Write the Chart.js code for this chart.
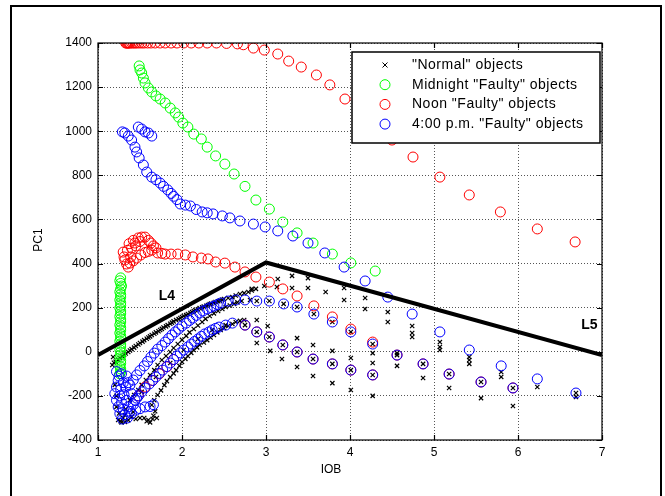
<!DOCTYPE html>
<html>
<head>
<meta charset="utf-8">
<script src="https://cdn.jsdelivr.net/npm/chart.js@4.4.1/dist/chart.umd.min.js"></script>
<style>
  html, body { margin: 0; padding: 0; background: #fff; }
</style>
</head>
<body>
<canvas id="pcChart" width="665" height="496"></canvas>
<script>
/* ------------------------------------------------------------
   Données (IOB, PC1)
------------------------------------------------------------ */
const xTicks = [1, 2, 3, 4, 5, 6, 7];
const yTicks = [-400, -200, 0, 200, 400, 600, 800, 1000, 1200, 1400];

const normalPts = [
  // bande dense supérieure
  [1.17,-60],[1.21,-45],[1.26,-28],[1.31,-14],[1.36,-1],[1.40,12],[1.45,26],[1.50,40],[1.55,53],[1.60,65],
  [1.64,76],[1.69,88],[1.74,99],[1.78,110],[1.83,121],[1.88,132],[1.93,144],[1.98,153],[2.02,162],[2.07,171],
  [2.12,180],[2.16,189],[2.21,198],[2.26,205],[2.31,212],[2.35,219],[2.40,226],[2.45,232],[2.50,239],[2.55,244],
  [2.60,248],[2.64,255],[2.69,262],[2.74,266],[2.79,271],[2.83,278],[2.88,285],[2.98,298],
  [1.19,-50],[1.24,-36],[1.29,-20],[1.33,-8],[1.38,6],[1.43,19],[1.48,33],[1.53,46],[1.58,59],[1.62,70],
  [1.67,82],[1.72,93],[1.76,104],[1.81,115],[1.86,127],[1.90,138],[1.96,148],[2.00,158],[2.05,166],[2.10,176],
  [2.14,185],[2.19,193],[2.24,202],[2.29,209],[2.33,216],[2.38,222],[2.43,229],[2.48,236],
  // bande inférieure
  [1.24,-309],[1.32,-287],[1.42,-273],[1.50,-300],[1.60,-309],[1.64,-241],[1.71,-196],[1.79,-151],[1.86,-115],
  [1.93,-83],[2.00,-46],[2.07,-19],[2.14,8],[2.21,31],[2.30,53],[2.38,76],[2.46,99],[2.55,117],[2.64,135],[2.74,144],
  [1.67,-220],[1.75,-175],[1.82,-133],[1.90,-98],[1.97,-64],[2.04,-32],[2.11,-5],[2.18,20],[2.26,42],[2.34,65],
  [2.42,88],[2.50,108],[2.60,126],[2.69,140],
  // bande du milieu
  [1.38,-219],[1.48,-173],[1.57,-128],[1.67,-83],[1.76,-37],[1.86,-1],[1.95,35],[2.05,72],[2.14,103],[2.24,135],
  [2.33,162],[2.43,185],[2.52,203],[2.62,217],[2.71,230],[2.81,235],
  [1.43,-196],[1.52,-150],[1.62,-105],[1.71,-60],[1.81,-19],[1.90,17],[2.00,54],[2.09,88],[2.19,119],[2.28,149],
  [2.38,174],[2.48,194],[2.57,210],[2.66,224],
  [1.52,-182],[1.69,-114],[1.86,-51],[2.02,8],[2.19,58],[2.36,99],[2.52,121],
  // amas en bas à gauche
  [1.22,-250],[1.25,-280],[1.28,-320],[1.30,-300],[1.33,-260],[1.36,-310],[1.40,-295],[1.55,-300],[1.62,-320],
  [1.66,-290],[1.18,-24],[1.20,-150],[1.22,-200],[1.27,-315],[1.32,-318],[1.45,-305],[1.58,-315],[1.65,-305],
  [1.70,-300],[1.68,-270],
  // nuage à droite
  [2.83,285],[3.14,330],[3.13,294],[3.31,344],[3.31,289],[3.50,334],[3.50,289],[3.71,271],[3.93,289],[3.93,235],
  [4.18,244],[4.18,194],[4.45,180],[4.45,135],[4.74,117],[4.74,85],[4.74,67],[5.07,44],[5.07,22],[5.07,8],
  [5.42,-24],[5.42,-37],[5.42,-55],[5.80,-92],[5.80,-114],[6.23,-160],[6.69,-205],
  [2.89,144],[3.02,117],[2.89,40],[3.05,4],[3.19,-33],[3.37,62],[3.37,-69],[3.56,31],[3.56,-110],[3.79,4],
  [3.79,-142],[4.01,-28],[4.01,-173],[4.27,-6],[4.27,-51],[4.27,-200],[4.56,-6],[4.56,-64],[4.87,-55],[4.87,-119],
  [5.18,-101],[5.18,-164],[5.56,-137],[5.56,-210],[5.94,-164],[5.94,-246],[6.69,-187],
  [2.89,230],[3.04,230],[3.21,217],[3.37,203],[3.57,171],[3.79,135],[4.01,90],[4.27,35],[4.56,-15],
  [2.75,121],[2.89,90],[3.04,67],[3.20,31],[3.37,-1],[3.56,-33],[3.79,-55],[4.01,-83],[4.27,-105]
];

const midnightPts = [
  // colonne verticale
  [1.27,335],[1.26,322],[1.27,310],[1.28,298],[1.27,285],[1.26,272],[1.27,260],[1.27,248],[1.26,235],[1.27,222],
  [1.27,210],[1.26,198],[1.27,185],[1.27,172],[1.26,160],[1.27,148],[1.27,135],[1.26,122],[1.27,110],[1.27,98],
  [1.26,85],[1.27,72],[1.27,60],[1.26,48],[1.27,35],[1.27,22],[1.26,10],[1.27,-2],[1.27,-15],[1.26,-28],
  [1.27,-40],[1.27,-52],[1.26,-65],[1.27,-78],[1.27,-90],[1.26,-100],
  // diagonale
  [1.49,1296],[1.50,1278],[1.52,1264],[1.54,1241],[1.56,1219],[1.60,1196],[1.64,1178],[1.69,1160],[1.74,1146],
  [1.80,1128],[1.86,1105],[1.92,1083],[1.96,1064],[2.01,1037],[2.07,1019],[2.14,987],[2.23,965],[2.30,928],
  [2.40,888],[2.51,851],[2.62,806],[2.75,750],[2.88,688],[3.04,647],[3.20,588],[3.37,539],[3.56,493],[3.79,443],
  [4.01,403],[4.30,366]
];

const noonPts = [
  // plateau à 1400
  [1.33,1400],[1.34,1400],[1.35,1400],[1.36,1400],[1.37,1400],[1.38,1400],[1.40,1400],[1.42,1400],[1.44,1400],
  [1.46,1400],[1.49,1400],[1.52,1400],[1.55,1400],[1.59,1400],[1.63,1400],[1.68,1400],[1.74,1400],[1.80,1400],
  [1.87,1400],[1.94,1400],[2.02,1400],[2.11,1400],[2.20,1400],[2.30,1400],[2.41,1400],[2.53,1398],[2.66,1396],
  [2.73,1392],[2.85,1377],[2.98,1368],[3.14,1350],[3.27,1318],[3.42,1291],[3.60,1255],[3.76,1210],[3.94,1146],
  [4.25,1051],[4.50,960],[4.75,883],[5.07,792],[5.42,711],[5.79,634],[6.23,557],[6.68,498],
  // boucle
  [1.30,452],[1.32,416],[1.36,384],[1.39,430],[1.44,493],[1.48,516],[1.52,520],[1.56,520],[1.60,505],[1.63,493],
  [1.66,480],[1.69,471],[1.64,461],[1.60,455],[1.56,450],[1.51,439],[1.46,425],[1.42,412],[1.38,402],[1.34,398],
  [1.31,430],[1.35,460],[1.40,470],[1.45,480],[1.50,500],[1.42,505],[1.37,490],
  // traîne
  [1.71,448],[1.76,446],[1.80,443],[1.87,443],[1.95,443],[2.04,439],[2.13,430],[2.23,425],[2.31,421],[2.40,407],
  [2.51,402],[2.63,384],[2.75,362],
  // descente basse
  [2.88,339],[3.04,316],[3.20,285],[3.37,253],[3.57,208],[3.79,158],[4.01,103],[4.27,44],[4.56,-15],[4.87,-55],
  [5.18,-101],[5.56,-137],[5.94,-164],
  [1.48,-200],[1.56,-160],[1.65,-130],[1.73,-100],[1.82,-68],[1.90,-35],
  [2.75,121],[2.89,90],[3.04,67],[3.20,31],[3.37,-1],[3.56,-33],[3.79,-55],[4.01,-83],[4.27,-105]
];

const afternoonPts = [
  // branche haute
  [1.48,1019],[1.52,1010],[1.56,997],[1.60,992],[1.64,978],
  [1.29,997],[1.32,992],[1.36,978],[1.40,960],[1.44,928],[1.46,906],[1.49,879],[1.54,847],[1.58,815],[1.64,792],
  [1.69,780],[1.74,765],[1.78,750],[1.83,734],[1.87,718],[1.90,705],[1.94,690],[1.98,670],[2.04,665],[2.10,661],
  [2.17,645],[2.24,634],[2.30,630],[2.37,625],[2.48,616],[2.57,607],[2.69,593],[2.85,579],[2.99,566],[3.14,548],
  [3.32,525],[3.50,493],[3.70,448],[3.93,384],[4.18,321],[4.45,248],[4.74,171],[5.07,90],[5.42,8],[5.80,-64],
  [6.23,-123],[6.69,-187],
  // amas et crochet
  [1.22,-90],[1.25,-110],[1.28,-100],[1.24,-130],[1.30,-140],[1.22,-160],[1.27,-170],[1.33,-160],[1.20,-190],
  [1.26,-200],[1.31,-195],[1.22,-220],[1.28,-230],[1.34,-220],[1.24,-250],[1.30,-260],[1.36,-250],[1.26,-280],
  [1.32,-285],[1.38,-270],[1.29,-305],[1.35,-300],[1.40,-280],[1.45,-265],[1.50,-258],[1.56,-250],[1.62,-248],
  [1.66,-240],[1.42,-240],[1.46,-210],[1.40,-190],[1.36,-140],[1.34,-110],
  // branche basse 1
  [1.38,-151],[1.42,-128],[1.46,-105],[1.50,-85],[1.55,-64],[1.59,-44],[1.63,-24],[1.67,-6],[1.71,12],[1.76,28],
  [1.80,44],[1.84,60],[1.88,76],[1.92,90],[1.96,103],[2.00,117],[2.05,130],[2.09,142],[2.13,153],[2.17,165],
  [2.21,176],[2.25,185],[2.30,194],[2.34,201],[2.38,207],[2.42,214],[2.46,221],[2.55,230],[2.64,235],[2.75,235],
  [2.89,230],[3.04,230],[3.21,217],[3.37,203],[3.57,171],[3.79,135],[4.01,90],[4.27,35],[4.56,-15],[4.87,-55],
  [5.18,-101],[5.56,-137],[5.94,-164],
  // branche basse 2
  [1.44,-219],[1.48,-200],[1.52,-182],[1.56,-164],[1.61,-146],[1.65,-130],[1.69,-114],[1.73,-98],[1.77,-83],
  [1.82,-67],[1.86,-51],[1.90,-35],[1.94,-19],[1.98,-5],[2.02,8],[2.07,22],[2.11,35],[2.15,47],[2.19,58],
  [2.23,70],[2.27,81],[2.32,90],[2.36,99],[2.40,106],[2.44,112],[2.52,121],[2.60,130],[2.75,121],[2.89,90],
  [3.04,67],[3.20,31],[3.37,-1],[3.56,-33],[3.79,-55],[4.01,-83],[4.27,-105]
];

// lignes de séparation L4 / L5
const boundaryPts = [[1, -15], [3, 405], [7, -15]];
const lineLabels = [
  { text: 'L4', x: 1.82, y: 253 },
  { text: 'L5', x: 6.85, y: 121 }
];

const seriesNames = ['"Normal" objects', 'Midnight "Faulty" objects', 'Noon "Faulty" objects', '4:00 p.m. "Faulty" objects'];
const seriesColors = ['#000000', '#00ff00', '#ff0000', '#0000ff'];

const FONT = '"Liberation Sans", Arial, Helvetica, sans-serif';

/* ------------------------------------------------------------
   Plugin : cadre, graduations intérieures, légende, titres
------------------------------------------------------------ */
const matlabLook = {
  id: 'matlabLook',
  beforeDraw(chart) {
    const ctx = chart.ctx;
    ctx.save();
    ctx.fillStyle = '#fff';
    ctx.fillRect(0, 0, chart.width, chart.height);
    ctx.strokeStyle = '#000';
    ctx.lineWidth = 2;
    ctx.beginPath();
    ctx.moveTo(11, 500);
    ctx.lineTo(11, 6);
    ctx.lineTo(661, 6);
    ctx.lineTo(661, 500);
    ctx.stroke();
    ctx.restore();
  },
  afterDraw(chart) {
    const { ctx, chartArea: a, scales: { x, y } } = chart;
    ctx.save();

    // cadre des axes
    ctx.strokeStyle = '#000';
    ctx.lineWidth = 1.2;
    ctx.strokeRect(a.left, a.top, a.right - a.left, a.bottom - a.top);

    // graduations vers l'intérieur
    ctx.beginPath();
    xTicks.forEach(v => {
      const px = Math.round(x.getPixelForValue(v)) + 0.5;
      ctx.moveTo(px, a.bottom); ctx.lineTo(px, a.bottom - 5);
      ctx.moveTo(px, a.top); ctx.lineTo(px, a.top + 5);
    });
    yTicks.forEach(v => {
      const py = Math.round(y.getPixelForValue(v)) + 0.5;
      ctx.moveTo(a.left, py); ctx.lineTo(a.left + 5, py);
      ctx.moveTo(a.right, py); ctx.lineTo(a.right - 5, py);
    });
    ctx.stroke();

    // titres des axes
    ctx.fillStyle = '#000';
    ctx.font = '12px ' + FONT;
    ctx.textAlign = 'center';
    ctx.textBaseline = 'middle';
    ctx.fillText('IOB', 331, 470);
    ctx.save();
    ctx.translate(39, 240);
    ctx.rotate(-Math.PI / 2);
    ctx.fillText('PC1', 0, 0);
    ctx.restore();

    // étiquettes L4 / L5
    ctx.font = 'bold 14px ' + FONT;
    lineLabels.forEach(l => {
      ctx.fillText(l.text, x.getPixelForValue(l.x), y.getPixelForValue(l.y));
    });

    // légende
    const box = { left: 352, top: 52, width: 248, height: 91 };
    ctx.fillStyle = '#fff';
    ctx.fillRect(box.left, box.top, box.width, box.height);
    ctx.lineWidth = 1.5;
    ctx.strokeStyle = '#000';
    ctx.strokeRect(box.left, box.top, box.width, box.height);
    ctx.font = '14px ' + FONT;
    ctx.letterSpacing = '0.5px';
    ctx.textAlign = 'left';
    seriesNames.forEach((name, i) => {
      const ry = 65 + i * 19.7;
      ctx.strokeStyle = seriesColors[i];
      ctx.lineWidth = 1;
      ctx.beginPath();
      if (i === 0) {
        ctx.moveTo(382.5, ry - 2.5); ctx.lineTo(387.5, ry + 2.5);
        ctx.moveTo(387.5, ry - 2.5); ctx.lineTo(382.5, ry + 2.5);
      } else {
        ctx.arc(385, ry, 5, 0, Math.PI * 2);
      }
      ctx.stroke();
      ctx.fillStyle = '#000';
      ctx.fillText(name, 412, ry);
    });
    ctx.restore();
  }
};

const toXY = pts => pts.map(p => ({ x: p[0], y: p[1] }));

const circleSet = (i, pts, order) => ({
  label: seriesNames[i],
  data: toXY(pts),
  pointStyle: 'circle',
  pointRadius: 5,
  borderColor: seriesColors[i],
  backgroundColor: 'rgba(0,0,0,0)',
  borderWidth: 1,
  order
});

new Chart(document.getElementById('pcChart'), {
  type: 'scatter',
  data: {
    datasets: [
      { label: seriesNames[0], data: toXY(normalPts), pointStyle: 'crossRot', pointRadius: 3,
        borderColor: '#000', borderWidth: 1.2, order: 4 },
      circleSet(1, midnightPts, 3),
      circleSet(2, noonPts, 2),
      circleSet(3, afternoonPts, 1),
      { label: 'L4/L5', data: toXY(boundaryPts), showLine: true, borderColor: '#000', borderWidth: 4,
        pointRadius: 0, order: 0 }
    ]
  },
  options: {
    responsive: false,
    animation: false,
    layout: { padding: { left: 0, top: 43, right: 63, bottom: 0 } },
    plugins: { legend: { display: false }, tooltip: { enabled: false } },
    scales: {
      x: {
        type: 'linear', min: 1, max: 7,
        afterFit: s => { s.height = 56; },
        afterBuildTicks: s => { s.ticks = xTicks.map(v => ({ value: v })); },
        ticks: { color: '#000', font: { size: 12, family: FONT }, padding: 5, callback: v => String(v) },
        grid: { color: '#555', lineWidth: 1, drawTicks: false },
        border: { display: false, dash: [1, 2] }
      },
      y: {
        type: 'linear', min: -400, max: 1400,
        afterFit: s => { s.width = 98; },
        afterBuildTicks: s => { s.ticks = yTicks.map(v => ({ value: v })); },
        ticks: { color: '#000', font: { size: 12, family: FONT }, padding: 6, callback: v => String(v) },
        grid: { color: '#555', lineWidth: 1, drawTicks: false },
        border: { display: false, dash: [1, 2] }
      }
    }
  },
  plugins: [matlabLook]
});
</script>
</body>
</html>
